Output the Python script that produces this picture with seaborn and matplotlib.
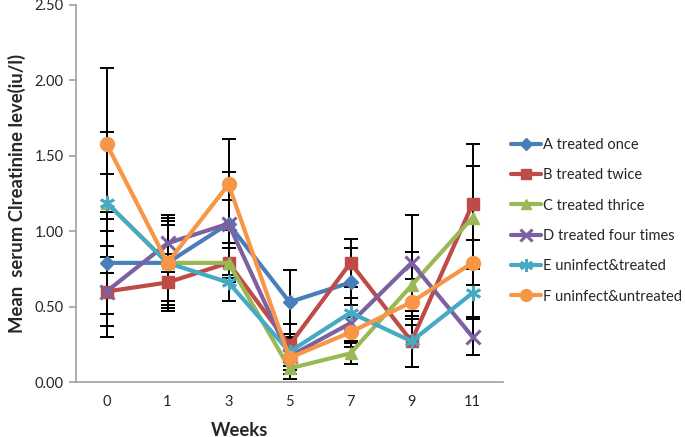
import numpy as np
import pandas as pd
import matplotlib
matplotlib.use("Agg")
import matplotlib.pyplot as plt
import seaborn as sns
from matplotlib.lines import Line2D

weeks = ["0", "1", "3", "5", "7", "9", "11"]
series_names = ["A treated once", "B treated twice", "C treated thrice",
                "D treated four times", "E uninfect&treated", "F uninfect&untreated"]

a_vals = [0.79, 0.79, 1.05, 0.53, 0.66, np.nan, np.nan]
b_vals = [0.60, 0.66, 0.79, 0.245, 0.79, 0.27, 1.18]
c_vals = [1.19, 0.79, 0.79, 0.09, 0.19, 0.64, 1.09]
d_vals = [0.60, 0.92, 1.05, 0.17, 0.39, 0.79, 0.30]
e_vals = [1.19, 0.79, 0.66, 0.20, 0.46, 0.27, 0.59]
f_vals = [1.58, 0.79, 1.31, 0.16, 0.33, 0.53, 0.79]

a_err = [0.34, 0.30, 0.34, 0.21, 0.23, np.nan, np.nan]
b_err = [0.30, 0.19, 0.13, 0.14, 0.16, 0.17, 0.40]
c_err = [0.19, 0.28, 0.10, 0.04, 0.07, 0.22, 0.34]
d_err = [0.23, 0.19, 0.16, 0.12, 0.12, 0.32, 0.12]
e_err = [0.47, 0.25, 0.12, 0.12, 0.10, 0.17, 0.16]
f_err = [0.50, 0.30, 0.30, 0.14, 0.10, 0.15, 0.15]

all_vals = [a_vals, b_vals, c_vals, d_vals, e_vals, f_vals]
all_errs = [a_err, b_err, c_err, d_err, e_err, f_err]
colors = ["#4A7EBB", "#BE4B48", "#98B954", "#7D60A0", "#46AAC5", "#F79646"]
markers = ["D", "s", "^", "x", (6, 2, 0), "o"]
msizes = [7, 8, 9, 10, 11, 10]
mews = [1, 1, 1, 2.2, 2.0, 1]

rows = []
for name, vals, errs in zip(series_names, all_vals, all_errs):
    for i, (w, v, e) in enumerate(zip(weeks, vals, errs)):
        rows.append({"series": name, "week": w, "pos": i, "value": v, "err": e})
df = pd.DataFrame(rows)

sns.set_style("white")
plt.rcParams['font.family'] = ['Lato', 'DejaVu Sans']

fig = plt.figure(figsize=(6.85, 4.37), dpi=100)
ax = fig.add_axes([76/685, 1-382/437, (503-76)/685, (382-5)/437])

# error bars
for name in series_names:
    sub = df[df["series"] == name].dropna()
    ax.errorbar(sub["pos"], sub["value"], yerr=sub["err"], fmt="none",
                ecolor="black", elinewidth=1.4, capsize=5, capthick=1.4, zorder=2)

handles = []
for name, c, m, ms, mew in zip(series_names, colors, markers, msizes, mews):
    sub = df[df["series"] == name].dropna()
    sns.lineplot(data=sub, x="pos", y="value", ax=ax, color=c, linewidth=3,
                 marker=m, markersize=ms, markeredgecolor=c, markeredgewidth=mew,
                 zorder=3, legend=False, errorbar=None)
    handles.append(Line2D([0], [0], color=c, lw=3, marker=m, markersize=ms*0.85,
                          markeredgecolor=c, markeredgewidth=mew, label=name))

ax.set_xlim(-0.5, 6.5)
ax.set_ylim(0, 2.5)
ax.set_xticks(range(len(weeks)))
ax.set_xticklabels(weeks, fontsize=10.5)
ax.set_xticks(np.arange(0.5, 6.0, 1.0), minor=True)
ax.tick_params(axis="x", which="major", length=0, pad=9)
ax.tick_params(axis="x", which="minor", length=5, color="#A0A0A0", width=1.2, direction="out")
ax.set_yticks(np.arange(0, 2.51, 0.5))
ax.set_yticklabels([f"{v:.2f}" for v in np.arange(0, 2.51, 0.5)], fontsize=10.5)
ax.tick_params(axis="y", length=5, color="#A0A0A0", width=1.2, direction="out", left=True, pad=4)
for s in ["top", "right"]:
    ax.spines[s].set_visible(False)
for s in ["left", "bottom"]:
    ax.spines[s].set_color("#A0A0A0")
    ax.spines[s].set_linewidth(1.2)
ax.set_xlabel("")
ax.set_ylabel("Mean  serum Clreatinine leve(iu/l)", fontsize=13.3, fontweight="bold", labelpad=6)
fig.text(240/685, 1-430/437, "Weeks", fontsize=13.3, fontweight="bold", ha="center", va="center")

fig.legend(handles=handles, loc="upper left", bbox_to_anchor=(505/685, 1-132/437),
           frameon=False, fontsize=10.5, handlelength=2.1, handletextpad=0.1,
           labelspacing=1.12, borderaxespad=0)

fig.savefig("out.png", dpi=100)
